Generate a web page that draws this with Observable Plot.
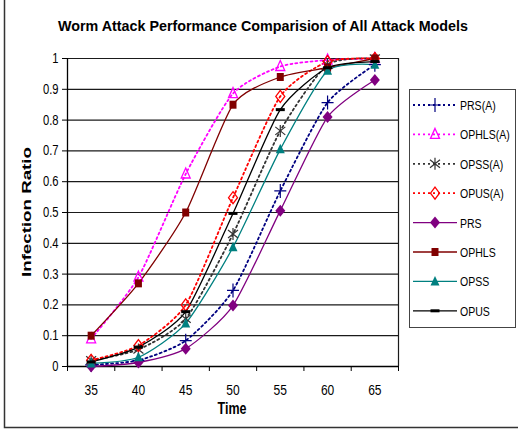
<!DOCTYPE html>
<html><head><meta charset="utf-8">
<script src="https://cdn.jsdelivr.net/npm/d3@7"></script>
<script src="https://cdn.jsdelivr.net/npm/@observablehq/plot@0.6"></script>
<style>
html,body{margin:0;padding:0;background:#fff}
#wrap{position:relative;width:518px;height:429px;overflow:hidden;background:#fff}
#wrap svg{position:absolute;left:0;top:0}
</style>
</head><body><div id="wrap"></div>
<script>
// ---- data ----
const times = [35, 40, 45, 50, 55, 60, 65];
const xTickLabels = ["35", "40", "45", "50", "55", "60", "65"];
const yTicks = [0, 0.1, 0.2, 0.3, 0.4, 0.5, 0.6, 0.7, 0.8, 0.9, 1];
const yTickLabels = ["0", "0.1", "0.2", "0.3", "0.4", "0.5", "0.6", "0.7", "0.8", "0.9", "1"];
const seriesNames = ["PRS(A)", "OPHLS(A)", "OPSS(A)", "OPUS(A)", "PRS", "OPHLS", "OPSS", "OPUS"];
const prsA   = [0.005, 0.02, 0.084, 0.247, 0.57, 0.857, 0.98];
const ophlsA = [0.09, 0.29, 0.625, 0.886, 0.974, 0.995, 1.0];
const opssA  = [0.02, 0.055, 0.155, 0.43, 0.765, 0.98, 1.0];
const opusA  = [0.02, 0.068, 0.2, 0.548, 0.877, 0.99, 1.0];
const prs    = [0.0, 0.013, 0.058, 0.198, 0.506, 0.81, 0.93];
const ophls  = [0.1, 0.27, 0.5, 0.85, 0.94, 0.97, 1.0];
const opss   = [0.01, 0.03, 0.14, 0.387, 0.705, 0.96, 0.98];
const opus   = [0.015, 0.063, 0.178, 0.497, 0.834, 0.97, 0.99];
const seriesValues = [prsA, ophlsA, opssA, opusA, prs, ophls, opss, opus];

// ---- symbols & styles ----
function sym(fn) { return { draw(ctx) { fn(ctx); } }; }
const SYM = {
  cross: sym(c => { c.moveTo(-6, 0); c.lineTo(6, 0); c.moveTo(0, -7); c.lineTo(0, 7); }),
  triO:  sym(c => { c.moveTo(0, -6); c.lineTo(4.5, 4); c.lineTo(-4.5, 4); c.closePath(); }),
  aster: sym(c => { c.moveTo(0, -6); c.lineTo(0, 6); c.moveTo(-5, -4); c.lineTo(5, 4); c.moveTo(-5, 4); c.lineTo(5, -4); }),
  diaO:  sym(c => { c.moveTo(0, -6); c.lineTo(4.5, 0); c.lineTo(0, 6); c.lineTo(-4.5, 0); c.closePath(); }),
  dia:   sym(c => { c.moveTo(0, -6); c.lineTo(5, 0); c.lineTo(0, 6); c.lineTo(-5, 0); c.closePath(); }),
  sq:    sym(c => { c.rect(-3.5, -4, 7, 8); }),
  tri:   sym(c => { c.moveTo(0, -5.5); c.lineTo(4.5, 4); c.lineTo(-4.5, 4); c.closePath(); }),
  dash:  sym(c => { c.rect(-4.5, -1.5, 9, 3); })
};
const STY = {
  "PRS(A)":   { color: "#000080", dash: "2,3", sym: "cross", fill: "none", sw: 1.8, msw: 1.2 },
  "OPHLS(A)": { color: "#ff00ff", dash: "2,3", sym: "triO",  fill: "none", sw: 1.8, msw: 1.3 },
  "OPSS(A)":  { color: "#333333", dash: "2,3", sym: "aster", fill: "none", sw: 1.8, msw: 1.2 },
  "OPUS(A)":  { color: "#ff0000", dash: "2,3", sym: "diaO",  fill: "none", sw: 1.8, msw: 1.3 },
  "PRS":      { color: "#800080", dash: null,  sym: "dia",   fill: "#800080", sw: 1.3, msw: 0 },
  "OPHLS":    { color: "#800000", dash: null,  sym: "sq",    fill: "#800000", sw: 1.3, msw: 0 },
  "OPSS":     { color: "#008080", dash: null,  sym: "tri",   fill: "#008080", sw: 1.3, msw: 0 },
  "OPUS":     { color: "#000000", dash: null,  sym: "dash",  fill: "#000000", sw: 1.3, msw: 0 }
};

const rows = seriesNames.flatMap((s, k) => times.map((t, i) => ({ series: s, t, v: seriesValues[k][i] })));
const xBounds = times.map(t => t - 2.5).concat([times[times.length - 1] + 2.5]);

const FONT = "'Liberation Sans', Arial, Helvetica, sans-serif";

const marks = [
  Plot.ruleY(yTicks.filter(d => d > 0), { y: d => d, stroke: "#1a1a1a", strokeWidth: 1.2 }),
  Plot.ruleX([xBounds[xBounds.length - 1]], { x: d => d, stroke: "#1a1a1a", strokeWidth: 1.2 }),
  Plot.ruleX([xBounds[0]], { x: d => d, stroke: "#000", strokeWidth: 1.3 }),
  Plot.ruleY([0], { y: d => d, stroke: "#000", strokeWidth: 1.3 }),
  Plot.axisY({ ticks: yTicks, tickSize: 5, tickPadding: 4, fontSize: 14, tickFormat: d => yTickLabels[yTicks.indexOf(d)], label: null }),
  Plot.axisX({ ticks: xBounds, tickSize: 5, tickFormat: () => "", label: null }),
  Plot.axisX({ ticks: times, tickSize: 0, tickPadding: 18, fontSize: 15, tickFormat: d => xTickLabels[times.indexOf(d)], label: null })
];
for (const s of seriesNames) {
  const st = STY[s];
  const data = rows.filter(r => r.series === s);
  marks.push(Plot.line(data, { x: "t", y: "v", stroke: st.color, strokeWidth: st.sw, strokeDasharray: st.dash || undefined, curve: "cardinal", tension: 0.35 }));
}
for (const s of seriesNames) {
  const st = STY[s];
  const data = rows.filter(r => r.series === s);
  marks.push(Plot.dot(data, { x: "t", y: "v", symbol: SYM[st.sym], r: 4, fill: st.fill, stroke: st.msw ? st.color : "none", strokeWidth: st.msw || 0 }));
}

const plot = Plot.plot({
  width: 518, height: 429,
  marginLeft: 67, marginRight: 120, marginTop: 58, marginBottom: 63,
  x: { domain: [xBounds[0], xBounds[xBounds.length - 1]], axis: null },
  y: { domain: [0, 1], axis: null },
  style: { fontFamily: FONT, color: "#000", background: "transparent" },
  marks
});
const wrap = document.getElementById("wrap");
wrap.appendChild(plot);

function condense(t, f) {
  const L = t.getComputedTextLength();
  if (L > 0) { t.setAttribute("textLength", (L * f).toFixed(1)); t.setAttribute("lengthAdjust", "spacingAndGlyphs"); }
}
plot.querySelectorAll("text").forEach(t => condense(t, 0.8));

// ---- overlay: frame, titles, legend ----
const ov = d3.select(wrap).append("svg").attr("width", 518).attr("height", 429)
  .style("font-family", FONT).style("pointer-events", "none");
ov.append("path").attr("d", "M4.5,0V427.5H518").attr("fill", "none").attr("stroke", "#333").attr("stroke-width", 1.5);
ov.append("text").attr("x", 263).attr("y", 30.5).attr("text-anchor", "middle")
  .attr("font-size", 15.5).attr("font-weight", "bold").attr("textLength", 410).attr("lengthAdjust", "spacingAndGlyphs")
  .text("Worm Attack Performance Comparision of All Attack Models");
const tTime = ov.append("text").attr("x", 232).attr("y", 414).attr("text-anchor", "middle")
  .attr("font-size", 16).attr("font-weight", "bold").text("Time");
condense(tTime.node(), 0.78);
ov.append("text").attr("transform", "translate(31,212) rotate(-90)").attr("text-anchor", "middle")
  .attr("font-size", 13).attr("font-weight", "bold").attr("textLength", 130).attr("lengthAdjust", "spacingAndGlyphs")
  .text("Infection Ratio");

const lg = ov.append("g");
lg.append("rect").attr("x", 409.5).attr("y", 89.5).attr("width", 106).attr("height", 238)
  .attr("fill", "#fff").attr("stroke", "#444").attr("stroke-width", 1);
seriesNames.forEach((s, i) => {
  const st = STY[s];
  const y = 105 + i * 29.4;
  lg.append("line").attr("x1", 413).attr("x2", 457).attr("y1", y).attr("y2", y)
    .attr("stroke", st.color).attr("stroke-width", st.sw).attr("stroke-dasharray", st.dash);
  const p = d3.path(); SYM[st.sym].draw(p);
  lg.append("path").attr("d", p.toString()).attr("transform", `translate(435,${y})`)
    .attr("fill", st.fill).attr("stroke", st.msw ? st.color : "none").attr("stroke-width", st.msw || 0);
  lg.append("text").attr("transform", `translate(460,${y + 5}) scale(0.78,1)`).attr("font-size", 13.5).text(s);
});
</script>
</body></html>
